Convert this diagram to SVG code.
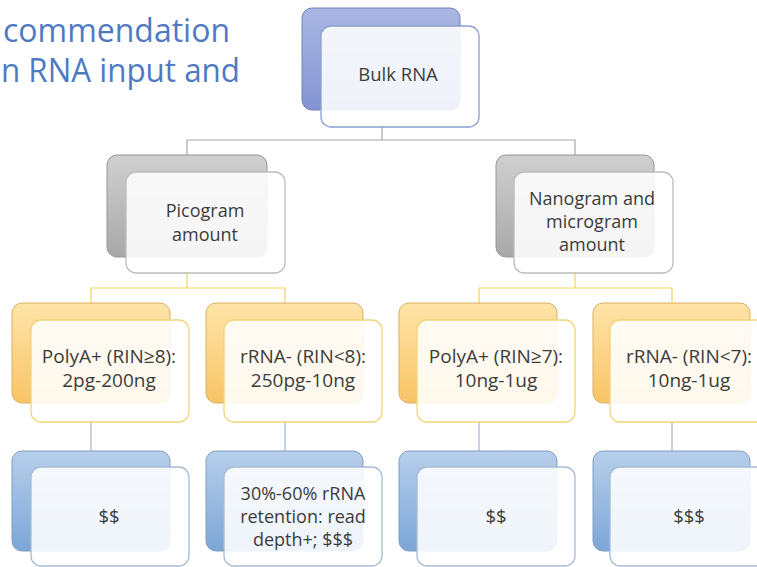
<svg xmlns="http://www.w3.org/2000/svg" width="757" height="567" viewBox="0 0 757 567">
<defs>
<linearGradient id="gBulk" x1="0" y1="0" x2="0" y2="1"><stop offset="0" stop-color="#aab7e3"/><stop offset="1" stop-color="#8494d2"/></linearGradient>
<linearGradient id="gGray" x1="0" y1="0" x2="0" y2="1"><stop offset="0" stop-color="#d0d0d0"/><stop offset="1" stop-color="#a8a8a8"/></linearGradient>
<linearGradient id="gYel" x1="0" y1="0" x2="0" y2="1"><stop offset="0" stop-color="#fee4a8"/><stop offset="1" stop-color="#f8c466"/></linearGradient>
<linearGradient id="gBlue" x1="0" y1="0" x2="0" y2="1"><stop offset="0" stop-color="#b7cfeb"/><stop offset="1" stop-color="#7ca6d7"/></linearGradient>
</defs>
<style>
.t{font-family:"Open Sans","Liberation Sans",sans-serif;font-size:18px;fill:#3c3c3c;text-anchor:middle}
.l1{font-size:18.5px}
.l3{font-size:19px}
.l4{font-size:18.5px}
.l4m{font-size:18px}
.title{font-family:"Open Sans","Liberation Sans",sans-serif;font-size:32px;fill:#4f7ac2}
.front{fill:#ffffff;fill-opacity:0.88;stroke-width:1.3}
.back{stroke-width:1}
.b1{fill:url(#gBulk);stroke:#7282bc}
.f1{stroke:#8d9fd0}
.b2{fill:url(#gGray);stroke:#959595}
.f2{stroke:#bcbcbc}
.b3{fill:url(#gYel);stroke:#d9b060}
.f3{stroke:#f0d57a}
.b4{fill:url(#gBlue);stroke:#7f9ec4}
.f4{stroke:#a6bcd3}
.c{fill:none;stroke-width:1.2}
</style>
<rect width="757" height="567" fill="#ffffff"/>
<g id="title">
<text class="title" x="3" y="42" textLength="227" lengthAdjust="spacingAndGlyphs">commendation</text>
<text class="title" x="1" y="82" textLength="239" lengthAdjust="spacingAndGlyphs">n RNA input and</text>
</g>
<g id="connectors">
<path class="c" stroke="#a8a8a8" d="M382,127 V140 M187,155 V140 H575 V155"/>
<path class="c" stroke="#f3d35c" d="M187,273 V288 M91,303 V288 H285 V303 M575,273 V288 M479,303 V288 H672 V303"/>
<path class="c" stroke="#a0b8cf" d="M91,422 V451 M285,422 V451 M479,422 V451 M672,422 V451"/>
</g>
<g id="bulk">
<rect class="back b1" x="302" y="8" width="158" height="102" rx="10"/>
<rect class="front f1" x="321" y="26" width="158" height="101" rx="10"/>
<text class="t l1" x="398" y="81">Bulk RNA</text>
</g>
<g id="picogram">
<rect class="back b2" x="107" y="155" width="160" height="102" rx="10"/>
<rect class="front f2" x="126" y="172" width="159" height="101" rx="10"/>
<text class="t" x="205" y="217">Picogram</text>
<text class="t" x="205" y="241">amount</text>
</g>
<g id="nanogram">
<rect class="back b2" x="496" y="155" width="158" height="102" rx="10"/>
<rect class="front f2" x="514" y="172" width="159" height="101" rx="10"/>
<text class="t" x="592" y="205">Nanogram and</text>
<text class="t" x="592" y="228">microgram</text>
<text class="t" x="592" y="251">amount</text>
</g>
<g id="polyA8">
<rect class="back b3" x="12" y="303" width="158" height="100" rx="10"/>
<rect class="front f3" x="31" y="320" width="158" height="102" rx="10"/>
<text class="t l3" x="109" y="363">PolyA+ (RIN≥8):</text>
<text class="t l3" x="109" y="387">2pg-200ng</text>
</g>
<g id="rRNA8">
<rect class="back b3" x="206" y="303" width="157" height="100" rx="10"/>
<rect class="front f3" x="224" y="320" width="158" height="102" rx="10"/>
<text class="t l3" x="303" y="363">rRNA- (RIN&lt;8):</text>
<text class="t l3" x="303" y="387">250pg-10ng</text>
</g>
<g id="polyA7">
<rect class="back b3" x="399" y="303" width="158" height="100" rx="10"/>
<rect class="front f3" x="417" y="320" width="158" height="102" rx="10"/>
<text class="t l3" x="496" y="363">PolyA+ (RIN≥7):</text>
<text class="t l3" x="496" y="387">10ng-1ug</text>
</g>
<g id="rRNA7">
<rect class="back b3" x="593" y="303" width="157" height="100" rx="10"/>
<rect class="front f3" x="610" y="320" width="158" height="102" rx="10"/>
<text class="t l3" x="689" y="363">rRNA- (RIN&lt;7):</text>
<text class="t l3" x="689" y="387">10ng-1ug</text>
</g>
<g id="cost1">
<rect class="back b4" x="12" y="451" width="158" height="100" rx="10"/>
<rect class="front f4" x="31" y="467" width="158" height="99" rx="10"/>
<text class="t l4" x="109" y="523">$$</text>
</g>
<g id="cost2">
<rect class="back b4" x="206" y="451" width="157" height="100" rx="10"/>
<rect class="front f4" x="224" y="467" width="158" height="99" rx="10"/>
<text class="t l4m" x="303" y="500">30%-60% rRNA</text>
<text class="t l4m" x="303" y="523">retention: read</text>
<text class="t l4m" x="303" y="546">depth+; $$$</text>
</g>
<g id="cost3">
<rect class="back b4" x="399" y="451" width="158" height="100" rx="10"/>
<rect class="front f4" x="417" y="467" width="158" height="99" rx="10"/>
<text class="t l4" x="496" y="523">$$</text>
</g>
<g id="cost4">
<rect class="back b4" x="593" y="451" width="157" height="100" rx="10"/>
<rect class="front f4" x="610" y="467" width="158" height="99" rx="10"/>
<text class="t l4" x="689" y="523">$$$</text>
</g>
</svg>
